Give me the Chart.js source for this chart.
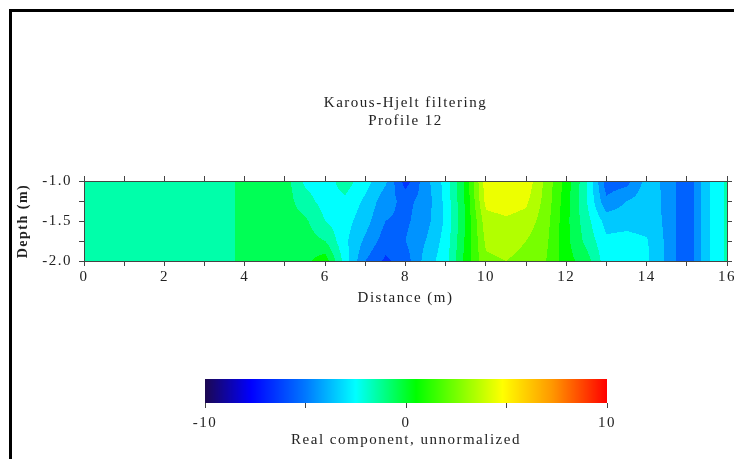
<!DOCTYPE html>
<html lang="en">
<head>
<meta charset="UTF-8">
<title>Karous-Hjelt filtering - Profile 12</title>
<script src="https://cdn.jsdelivr.net/npm/chart.js"></script>
<style>
    body {
        margin: 0;
        width: 734px;
        height: 459px;
        overflow: hidden;
        background: #fff;
        position: relative;
    }
    .frame {
        position: absolute;
        left: 9px;
        top: 9px;
        width: 800px;
        height: 500px;
        border: 3px solid #000;
    }
    #profile { position: absolute; left: 0; top: 0; }
    #scale { position: absolute; left: 0; top: 360px; }
</style>
</head>
<body>
<div class="frame"></div>
<canvas id="profile" width="734" height="311"></canvas>
<canvas id="scale" width="734" height="99"></canvas>

<script>
// profile stations (m) and depth levels (m)
const distance = [0, 0.5, 1, 1.5, 2, 2.5, 3, 3.5, 4, 4.5, 5, 5.5, 6, 6.5, 7, 7.5, 8,
                  8.5, 9, 9.5, 10, 10.5, 11, 11.5, 12, 12.5, 13, 13.5, 14, 14.5, 15, 15.5, 16];
const depths = [-1.0, -1.25, -1.5, -1.75, -2.0];

// K-H filtered real component, one row per depth
const depth100 = [-1.5, -1.5, -1.5, -1.5, -1.5, -1.5, -1.5, -1.5, -0.5, -0.5, -0.5, -2.2, -2.5, -1.5, -2.6, -3.8, -6.5,
                  -4.4, -2.6, 0.3, 4.6, 4.8, 4.7, 2.7, 0.6, -1.8, -5.6, -5.4, -3.6, -4.2, -5.9, -3.2, -1.8];
const depth125 = [-1.5, -1.5, -1.5, -1.5, -1.5, -1.5, -1.5, -1.5, -0.5, -0.5, -0.5, -1.6, -2.4, -2.2, -3.2, -4.6, -5.3,
                  -4.6, -2.7, 0.2, 4.3, 4.6, 4.2, 2.6, 0.4, -1.9, -4.8, -4.0, -3.5, -4.2, -5.9, -3.2, -1.8];
const depth150 = [-1.5, -1.5, -1.5, -1.5, -1.5, -1.5, -1.5, -1.5, -0.5, -0.5, -0.5, -0.8, -2.0, -2.6, -3.6, -5.0, -5.2,
                  -4.4, -2.8, 0.1, 3.6, 3.8, 3.6, 2.4, 0.3, -1.6, -3.4, -3.3, -3.4, -4.2, -5.9, -3.2, -1.8];
const depth175 = [-1.5, -1.5, -1.5, -1.5, -1.5, -1.5, -1.5, -1.5, -0.5, -0.5, -0.5, -0.5, -1.0, -2.8, -4.2, -5.5, -5.0,
                  -4.0, -2.6, 0.2, 3.2, 3.4, 3.0, 2.2, 0.3, -1.3, -2.8, -2.7, -2.9, -4.2, -5.9, -3.2, -1.8];
const depth200 = [-1.5, -1.5, -1.5, -1.5, -1.5, -1.5, -1.5, -1.5, -0.5, -0.5, -0.3, -0.3, 0.6, -2.5, -5.0, -6.2, -5.5,
                  -3.6, -2.4, 0.4, 2.8, 3.0, 2.7, 2.0, 0.4, -0.5, -2.6, -2.6, -2.8, -4.2, -5.9, -3.2, -1.8];

const depthTicks = [-1.0, -1.5, -2.0];
const colorTicks = [-10, 0, 10];

const rows = [depth100, depth125, depth150, depth175, depth200];

// rainbow colour scale, -10 .. 10
const rampStops = [-10, -7.7, -5, -2.5, 0.5, 4.8, 7.3, 10];
const rampColors = [[28, 8, 80], [0, 0, 255], [0, 120, 255], [0, 255, 255],
                    [0, 255, 0], [255, 255, 0], [255, 150, 0], [255, 0, 0]];

function rampColor(v) {
    if (v <= rampStops[0]) return rampColors[0];
    for (let i = 1; i < rampStops.length; i++) {
        if (v <= rampStops[i]) {
            const t = (v - rampStops[i - 1]) / (rampStops[i] - rampStops[i - 1]);
            const a = rampColors[i - 1], b = rampColors[i];
            return [0, 1, 2].map(k => Math.round(a[k] + (b[k] - a[k]) * t));
        }
    }
    return rampColors[rampColors.length - 1];
}

// bilinear lookup in the distance/depth grid
function sample(dist, dep) {
    let i = 0;
    while (i < distance.length - 2 && dist > distance[i + 1]) i++;
    let j = 0;
    while (j < depths.length - 2 && dep < depths[j + 1]) j++;
    const tx = Math.min(1, Math.max(0, (dist - distance[i]) / (distance[i + 1] - distance[i])));
    const ty = Math.min(1, Math.max(0, (dep - depths[j]) / (depths[j + 1] - depths[j])));
    const top = rows[j][i] + (rows[j][i + 1] - rows[j][i]) * tx;
    const bot = rows[j + 1][i] + (rows[j + 1][i + 1] - rows[j + 1][i]) * tx;
    return top + (bot - top) * ty;
}

// filled contours, one colour per unit interval
const contourFill = {
    id: 'contourFill',
    beforeDatasetsDraw(chart) {
        const { ctx, chartArea: a, scales: { x, y } } = chart;
        const w = Math.round(a.right - a.left);
        const h = Math.round(a.bottom - a.top);
        const off = document.createElement('canvas');
        off.width = w;
        off.height = h;
        const octx = off.getContext('2d');
        const img = octx.createImageData(w, h);
        for (let py = 0; py < h; py++) {
            const dep = y.getValueForPixel(a.top + py + 0.5);
            for (let px = 0; px < w; px++) {
                const dist = x.getValueForPixel(a.left + px + 0.5);
                const v = sample(dist, dep);
                const c = rampColor(Math.floor(v) + 0.5);
                const k = (py * w + px) * 4;
                img.data[k] = c[0];
                img.data[k + 1] = c[1];
                img.data[k + 2] = c[2];
                img.data[k + 3] = 255;
            }
        }
        octx.putImageData(img, 0, 0);
        ctx.drawImage(off, a.left, a.top);
    }
};

// continuous ramp for the colour bar
const rampFill = {
    id: 'rampFill',
    beforeDatasetsDraw(chart) {
        const { ctx, chartArea: a, scales: { x } } = chart;
        for (let px = Math.floor(a.left); px < a.right; px++) {
            const c = rampColor(x.getValueForPixel(px + 0.5));
            ctx.fillStyle = 'rgb(' + c.join(',') + ')';
            ctx.fillRect(px, a.top, 1, a.bottom - a.top);
        }
    }
};

const spacedText = {
    id: 'spacedText',
    beforeDraw(chart) {
        chart.ctx.letterSpacing = '1.5px';
    }
};

Chart.defaults.font.family = '"Liberation Serif", "Times New Roman", serif';
Chart.defaults.font.size = 15;
Chart.defaults.color = '#222';

const axisColor = '#444';

function noPadding(scale) {
    scale.paddingLeft = 0;
    scale.paddingRight = 0;
    scale.paddingTop = 0;
    scale.paddingBottom = 0;
}

new Chart(document.getElementById('profile'), {
    type: 'scatter',
    data: { datasets: [] },
    plugins: [contourFill, spacedText],
    options: {
        responsive: false,
        animation: false,
        layout: { padding: 0 },
        plugins: {
            legend: { display: false },
            tooltip: { enabled: false },
            title: {
                display: true,
                fullSize: false,
                text: ['Karous-Hjelt filtering', 'Profile 12'],
                font: { size: 15, weight: 'normal' },
                color: '#222',
                padding: { top: 94, bottom: 43 }
            }
        },
        scales: {
            x: {
                type: 'linear',
                position: 'bottom',
                min: 0,
                max: 16,
                grid: { drawOnChartArea: false, tickLength: 5, color: axisColor },
                border: { display: true, color: axisColor, z: 1 },
                ticks: {
                    stepSize: 1,
                    padding: 2,
                    maxRotation: 0,
                    autoSkip: false,
                    callback: v => (v % 2 === 0 ? v : '')
                },
                title: { display: true, text: 'Distance (m)', padding: { top: 0, bottom: 4 } },
                afterFit(scale) { scale.height = 50; noPadding(scale); }
            },
            xTop: {
                type: 'linear',
                axis: 'x',
                position: 'top',
                min: 0,
                max: 16,
                grid: { drawOnChartArea: false, tickLength: 5, color: axisColor },
                border: { display: true, color: axisColor, z: 1 },
                ticks: { stepSize: 1, autoSkip: false, callback: () => '' },
                afterFit(scale) { scale.height = 8; noPadding(scale); }
            },
            y: {
                type: 'linear',
                position: 'left',
                min: -2,
                max: -1,
                grid: { drawOnChartArea: false, tickLength: 5, color: axisColor },
                border: { display: true, color: axisColor, z: 1 },
                ticks: {
                    stepSize: 0.25,
                    padding: 7,
                    autoSkip: false,
                    callback: v => {
                        const t = depthTicks.find(d => Math.abs(d - v) < 1e-6);
                        return t === undefined ? '' : t.toFixed(1);
                    }
                },
                title: {
                    display: true,
                    text: 'Depth (m)',
                    font: { size: 14, weight: 'bold' },
                    padding: { top: 15, bottom: 0 }
                },
                afterFit(scale) { scale.width = 84; noPadding(scale); }
            },
            yRight: {
                type: 'linear',
                axis: 'y',
                position: 'right',
                min: -2,
                max: -1,
                grid: { drawOnChartArea: false, tickLength: 5, color: axisColor },
                border: { display: true, color: axisColor, z: 1 },
                ticks: { stepSize: 0.25, autoSkip: false, callback: () => '' },
                afterFit(scale) { scale.width = 7; noPadding(scale); }
            }
        }
    }
});

new Chart(document.getElementById('scale'), {
    type: 'scatter',
    data: { datasets: [] },
    plugins: [rampFill, spacedText],
    options: {
        responsive: false,
        animation: false,
        layout: { padding: { left: 205, right: 127, top: 19, bottom: 6 } },
        plugins: {
            legend: { display: false },
            tooltip: { enabled: false }
        },
        scales: {
            x: {
                type: 'linear',
                position: 'bottom',
                min: -10,
                max: 10,
                grid: { drawOnChartArea: false, tickLength: 5, color: axisColor },
                border: { display: false },
                ticks: {
                    stepSize: 5,
                    padding: 6,
                    maxRotation: 0,
                    autoSkip: false,
                    callback: v => (colorTicks.includes(v) ? v : '')
                },
                title: { display: true, text: 'Real component, unnormalized', padding: { top: 0, bottom: 4 } },
                afterFit(scale) { scale.height = 50; noPadding(scale); }
            },
            y: { display: false, min: 0, max: 1 }
        }
    }
});
</script>
</body>
</html>
